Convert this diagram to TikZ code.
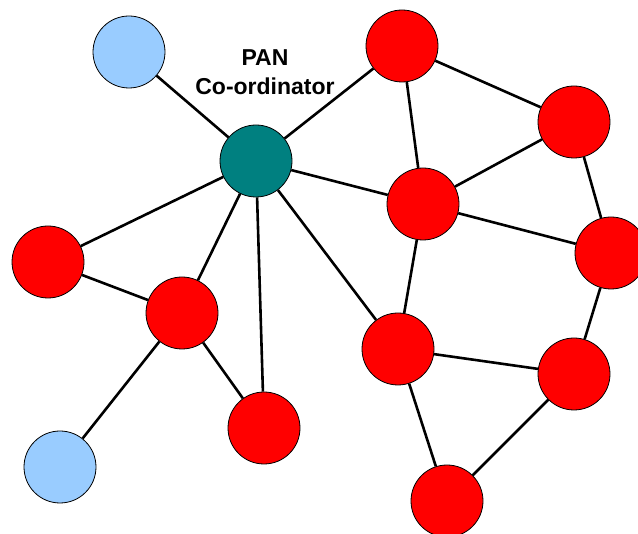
\documentclass[tikz,border=0pt]{standalone}
\usepackage{fontspec}
\setmainfont{Liberation Sans}
\definecolor{teal1}{HTML}{008080}
\definecolor{red1}{HTML}{FF0000}
\definecolor{blue1}{HTML}{99CCFF}
\begin{document}
\begin{tikzpicture}[x=1pt,y=-1pt,
  dev/.style={circle,draw=black,line width=0.8pt,minimum size=72pt,inner sep=0pt},
  rd/.style={dev,fill=red1},
  lb/.style={dev,fill=blue1},
  co/.style={dev,fill=teal1},
  link/.style={line width=2.6pt,black}]
\useasboundingbox (0,0) rectangle (638,534);
\begin{scope}
\clip (0,0) rectangle (638,534);
\node[lb] (b1) at (129,52) {};
\node[co] (c) at (256,161) {};
\node[rd] (r1) at (402,46) {};
\node[rd] (r2) at (574,122) {};
\node[rd] (r3) at (423,204) {};
\node[rd] (r4) at (611,253) {};
\node[rd] (r5) at (48,262) {};
\node[rd] (r6) at (182,313) {};
\node[rd] (r7) at (398,349) {};
\node[rd] (r8) at (574,374) {};
\node[rd] (r9) at (264,428) {};
\node[lb] (b2) at (60,467) {};
\node[rd] (r10) at (447,501) {};
\draw[link] (b1) -- (c);
\draw[link] (c) -- (r1);
\draw[link] (c) -- (r3);
\draw[link] (c) -- (r5);
\draw[link] (c) -- (r6);
\draw[link] (c) -- (r9);
\draw[link] (c) -- (r7);
\draw[link] (r1) -- (r2);
\draw[link] (r1) -- (r3);
\draw[link] (r2) -- (r3);
\draw[link] (r2) -- (r4);
\draw[link] (r3) -- (r4);
\draw[link] (r3) -- (r7);
\draw[link] (r4) -- (r8);
\draw[link] (r7) -- (r8);
\draw[link] (r7) -- (r10);
\draw[link] (r8) -- (r10);
\draw[link] (r5) -- (r6);
\draw[link] (r6) -- (r9);
\draw[link] (r6) -- (b2);
\end{scope}
\node[font=\fontsize{23}{29}\selectfont\bfseries,align=center,inner sep=0pt] (lbl) at (265,72) {PAN\\Co-ordinator};
\end{tikzpicture}
\end{document}
